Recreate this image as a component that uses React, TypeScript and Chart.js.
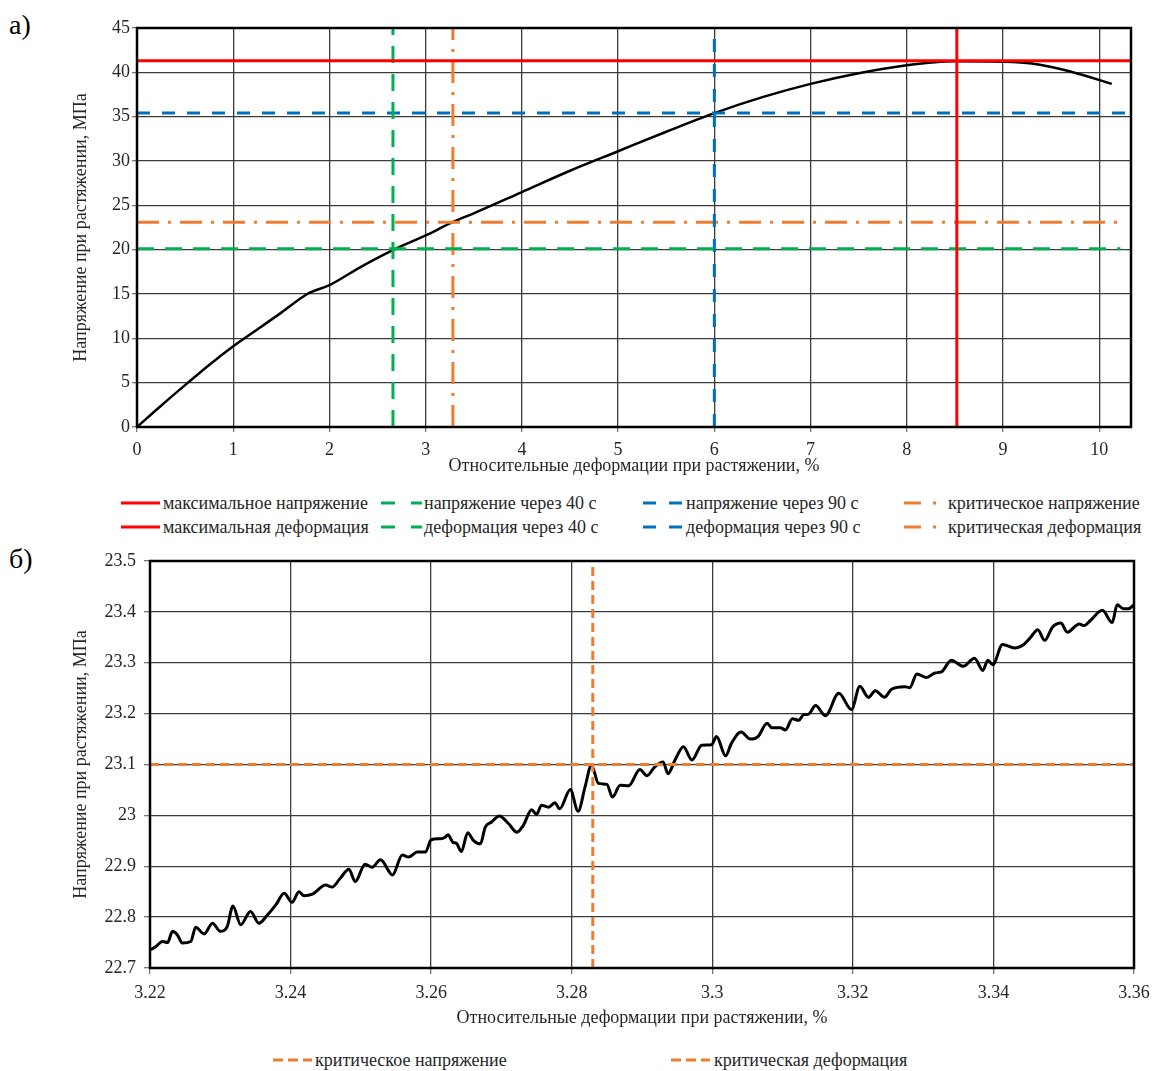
import React, { useEffect, useRef } from "react";
import { Chart, registerables } from "chart.js";

Chart.register(...registerables);

const FONT = '"Liberation Serif", "Times New Roman", serif';
const TXT = "#262626";
const GRID = "#3c3c3c";

// ---------- chart а) ----------
const curveStrain = [0, 0.25, 0.53, 0.75, 1.0, 1.25, 1.5, 1.77, 2.0, 2.3, 2.67, 3.0, 3.28, 3.5, 4.0, 4.5, 5.0, 5.5, 6.0, 6.5, 7.0, 7.5, 8.0, 8.5, 9.0, 9.3, 9.7, 10.13];
const curveStress = [0, 2.4, 5.0, 7.0, 9.1, 11.0, 12.9, 15.0, 16.0, 17.9, 20.0, 21.6, 23.1, 24.1, 26.5, 28.9, 31.1, 33.3, 35.4, 37.2, 38.7, 39.9, 40.8, 41.25, 41.2, 41.0, 40.1, 38.7];

const stressLabels = ["максимальное напряжение", "напряжение через 40 с", "напряжение через 90 с", "критическое напряжение"];
const strainLabels = ["максимальная деформация", "деформация через 40 с", "деформация через 90 с", "критическая деформация"];
const stressLevels = [41.3, 20.1, 35.4, 23.1];
const strainLevels = [8.52, 2.66, 6.0, 3.283];
const hLineEnd = [10.33, 10.22, 10.27, 10.2];

const axisA = { xMin: 0, xMax: 10.33, yMin: 0, yMax: 45, xStep: 1, yStep: 5 };

// ---------- chart б) ----------
const zoomStrain = [
  3.2201, 3.2208, 3.2218, 3.2225, 3.2232, 3.2239, 3.2246, 3.2258, 3.2265, 3.2277, 3.2289, 3.23, 3.231, 3.2318, 3.2329, 3.2343, 3.2355, 3.2367, 3.2379, 3.2391,
  3.2402, 3.2412, 3.2419, 3.2431, 3.245, 3.2459, 3.2471, 3.2483, 3.2492, 3.2506, 3.2516, 3.2528, 3.2545, 3.2559, 3.2568, 3.258, 3.2592, 3.26, 3.2613,
  3.262, 3.2624, 3.2631, 3.2636, 3.2643, 3.2652, 3.266, 3.267, 3.2677, 3.2686, 3.2697, 3.271, 3.2722, 3.2731, 3.2743, 3.275, 3.2757, 3.2767, 3.2776, 3.2783,
  3.2798, 3.2809, 3.2819, 3.2828, 3.2838, 3.285, 3.2858, 3.2869, 3.2881, 3.2897, 3.2907, 3.2918, 3.293, 3.2937, 3.2947, 3.2959, 3.2971, 3.2985, 3.2999,
  3.3006, 3.3019, 3.3027, 3.3041, 3.3054, 3.3065, 3.3078, 3.3085, 3.3097, 3.3104, 3.3114, 3.3123, 3.313, 3.3137, 3.3147, 3.3161, 3.318, 3.3198, 3.321,
  3.3222, 3.3232, 3.3245, 3.3255, 3.3274, 3.3281, 3.3291, 3.3305, 3.3317, 3.3326, 3.334, 3.3357, 3.3373, 3.3385, 3.3392, 3.3399, 3.3413, 3.343, 3.3444,
  3.3453, 3.3463, 3.3473, 3.3484, 3.3496, 3.3505, 3.3522, 3.3529, 3.3538, 3.3555, 3.3569, 3.3576, 3.3585, 3.3592, 3.36,
];
const zoomStress = [
  22.736, 22.742, 22.752, 22.75, 22.772, 22.765, 22.749, 22.752, 22.78, 22.767, 22.788, 22.772, 22.782, 22.822, 22.785, 22.811, 22.788, 22.804, 22.824, 22.847,
  22.829, 22.85, 22.842, 22.845, 22.863, 22.859, 22.877, 22.894, 22.87, 22.904, 22.898, 22.913, 22.883, 22.922, 22.918, 22.928, 22.928, 22.952, 22.954,
  22.957, 22.962, 22.947, 22.945, 22.929, 22.966, 22.951, 22.944, 22.977, 22.987, 22.999, 22.984, 22.967, 22.98, 23.011, 23.002, 23.02, 23.016, 23.025, 23.013,
  23.051, 23.008, 23.056, 23.099, 23.063, 23.061, 23.036, 23.059, 23.058, 23.09, 23.078, 23.095, 23.105, 23.082, 23.109, 23.135, 23.109, 23.138, 23.139,
  23.155, 23.117, 23.141, 23.164, 23.15, 23.155, 23.181, 23.172, 23.172, 23.168, 23.19, 23.187, 23.198, 23.199, 23.216, 23.196, 23.24, 23.208, 23.254,
  23.232, 23.245, 23.232, 23.248, 23.253, 23.251, 23.278, 23.271, 23.28, 23.282, 23.305, 23.293, 23.309, 23.285, 23.305, 23.296, 23.336, 23.329, 23.337,
  23.35, 23.365, 23.344, 23.37, 23.378, 23.36, 23.376, 23.373, 23.383, 23.403, 23.379, 23.414, 23.406, 23.406, 23.414,
];
const zoomLabels = ["критическое напряжение", "критическая деформация"];
const critStress = 23.1;
const critStrain = 3.283;
const axisB = { xMin: 3.22, xMax: 3.36, yMin: 22.7, yMax: 23.5, xStep: 0.02, yStep: 0.1 };

const xTitle = "Относительные деформации при растяжении, %";
const yTitle = "Напряжение при растяжении, МПа";

// ---------- styles ----------
const levelColors = ["#FF0000", "#00B050", "#0070C0", "#ED7D31"];
const levelDash = [[], [17, 11], [13, 12], [22, 9, 3, 9]];
const legendDash = [[], [14, 16], [13, 13], [17, 12, 3, 12]];
const ORANGE = "#ED7D31";

const framePlugin = {
  id: "frame",
  afterDraw(chart: any) {
    const { ctx, chartArea: a } = chart;
    ctx.save();
    ctx.strokeStyle = "#000";
    ctx.lineWidth = 2.5;
    ctx.strokeRect(a.left, a.top, a.right - a.left, a.bottom - a.top);
    ctx.restore();
  },
};

const font = { family: FONT, size: 18 };

function fmt(v: number) {
  return String(Number(v.toFixed(3)));
}

function scales(ax: any, yWidth: number, xHeight: number, xTickPad: number, yTickPad: number, tickLen: number, xTitlePad: number) {
  return {
    x: {
      type: "linear",
      min: ax.xMin,
      max: ax.xMax,
      ticks: { stepSize: ax.xStep, includeBounds: false, padding: xTickPad, color: TXT, font, maxRotation: 0, callback: (v: any) => fmt(v) },
      grid: { color: GRID, lineWidth: 1.3, tickLength: tickLen, tickColor: "#777" },
      border: { display: false },
      title: { display: true, text: xTitle, color: TXT, font, padding: { top: 0, bottom: xTitlePad } },
      afterFit: (s: any) => {
        s.height = xHeight;
        s.paddingLeft = 0;
        s.paddingRight = 0;
      },
    },
    y: {
      type: "linear",
      min: ax.yMin,
      max: ax.yMax,
      ticks: { stepSize: ax.yStep, includeBounds: false, padding: yTickPad, color: TXT, font, callback: (v: any) => fmt(v) },
      grid: { color: GRID, lineWidth: 1.3, tickLength: tickLen, tickColor: "#777" },
      border: { display: false },
      title: { display: true, text: yTitle, color: TXT, font, padding: { top: 0, bottom: 0 } },
      afterFit: (s: any) => {
        s.width = yWidth;
        s.paddingTop = 0;
        s.paddingBottom = 0;
      },
    },
  };
}

function configA(): any {
  const datasets: any[] = [];
  stressLevels.forEach((v, i) => {
    datasets.push({
      label: stressLabels[i],
      data: [
        { x: axisA.xMin, y: v },
        { x: hLineEnd[i], y: v },
      ],
      borderColor: levelColors[i],
      borderDash: levelDash[i],
      borderWidth: 3,
    });
    datasets.push({
      label: strainLabels[i],
      data: [
        { x: strainLevels[i], y: axisA.yMin },
        { x: strainLevels[i], y: axisA.yMax },
      ],
      borderColor: levelColors[i],
      borderDash: levelDash[i],
      borderWidth: 3,
    });
  });
  datasets.push({
    label: "curve",
    data: curveStrain.map((x, i) => ({ x, y: curveStress[i] })),
    borderColor: "#000",
    borderWidth: 2.5,
    cubicInterpolationMode: "monotone",
  });
  datasets.forEach((d) => {
    d.showLine = true;
    d.pointRadius = 0;
    d.fill = false;
  });
  return {
    type: "scatter",
    data: { datasets },
    options: {
      responsive: false,
      animation: false,
      events: [],
      layout: { padding: { left: 70, right: 23, top: 28, bottom: 0 } },
      plugins: { legend: { display: false }, tooltip: { enabled: false } },
      scales: scales(axisA, 67, 53, 7, 2, 5, 3),
    },
    plugins: [framePlugin],
  };
}

function configB(): any {
  const datasets: any[] = [
    {
      label: zoomLabels[0],
      data: [
        { x: axisB.xMin, y: critStress },
        { x: axisB.xMax, y: critStress },
      ],
      borderColor: ORANGE,
      borderDash: [9, 5],
      borderWidth: 3,
    },
    {
      label: zoomLabels[1],
      data: [
        { x: critStrain, y: axisB.yMin },
        { x: critStrain, y: axisB.yMax },
      ],
      borderColor: ORANGE,
      borderDash: [9, 5],
      borderWidth: 3,
    },
    {
      label: "curve",
      data: zoomStrain.map((x, i) => ({ x, y: zoomStress[i] })),
      borderColor: "#000",
      borderWidth: 3,
      cubicInterpolationMode: "monotone",
    },
  ];
  datasets.forEach((d) => {
    d.showLine = true;
    d.pointRadius = 0;
    d.fill = false;
  });
  return {
    type: "scatter",
    data: { datasets },
    options: {
      responsive: false,
      animation: false,
      events: [],
      layout: { padding: { left: 70, right: 20, top: 21, bottom: 0 } },
      plugins: { legend: { display: false }, tooltip: { enabled: false } },
      scales: scales(axisB, 80, 72, 8, 8, 6, 11),
    },
    plugins: [framePlugin],
  };
}

function ChartCanvas({ top, width, height, make }: any) {
  const ref = useRef<HTMLCanvasElement>(null);
  useEffect(() => {
    const chart = new Chart(ref.current as HTMLCanvasElement, make());
    return () => chart.destroy();
  }, []);
  return (
    <canvas
      ref={ref}
      width={width}
      height={height}
      style={{ position: "absolute", left: 0, top, width, height }}
    />
  );
}

function Sample({ left, centerY, width, color, dash }: any) {
  return (
    <svg
      width={width}
      height={8}
      style={{ position: "absolute", left, top: centerY - 4 }}
    >
      <line x1={0} y1={4} x2={width} y2={4} stroke={color} strokeWidth={3} strokeDasharray={dash.length ? dash.join(" ") : undefined} />
    </svg>
  );
}

function LegendText({ left, centerY, text }: any) {
  return (
    <div
      style={{
        position: "absolute",
        left,
        top: centerY - 11,
        lineHeight: "22px",
        fontFamily: FONT,
        fontSize: 18,
        color: TXT,
        whiteSpace: "nowrap",
      }}
    >
      {text}
    </div>
  );
}

const legendSampleLeft = [121, 381, 643, 904];
const legendSampleWidth = [39, 41, 39, 36];
const legendTextLeft = [163, 424, 686, 948];

export default function App() {
  return (
    <div style={{ position: "absolute", left: 0, top: 0, width: 1154, height: 1071, background: "#fff", overflow: "hidden" }}>
      <div style={{ position: "absolute", left: 9, top: 8, fontFamily: FONT, fontSize: 28, color: "#000", lineHeight: "34px" }}>а)</div>
      <div style={{ position: "absolute", left: 9, top: 542, fontFamily: FONT, fontSize: 28, color: "#000", lineHeight: "34px" }}>б)</div>
      <ChartCanvas top={0} width={1154} height={480} make={configA} />
      {stressLabels.map((t, i) => (
        <React.Fragment key={"s" + i}>
          <Sample left={legendSampleLeft[i]} centerY={503} width={legendSampleWidth[i]} color={levelColors[i]} dash={legendDash[i]} />
          <LegendText left={legendTextLeft[i]} centerY={503} text={t} />
        </React.Fragment>
      ))}
      {strainLabels.map((t, i) => (
        <React.Fragment key={"d" + i}>
          <Sample left={legendSampleLeft[i]} centerY={527} width={legendSampleWidth[i]} color={levelColors[i]} dash={legendDash[i]} />
          <LegendText left={legendTextLeft[i]} centerY={527} text={t} />
        </React.Fragment>
      ))}
      <ChartCanvas top={540} width={1154} height={500} make={configB} />
      <Sample left={273} centerY={1060} width={39} color={ORANGE} dash={[10, 5]} />
      <LegendText left={315} centerY={1060} text={zoomLabels[0]} />
      <Sample left={671} centerY={1060} width={39} color={ORANGE} dash={[10, 5]} />
      <LegendText left={714} centerY={1060} text={zoomLabels[1]} />
    </div>
  );
}
